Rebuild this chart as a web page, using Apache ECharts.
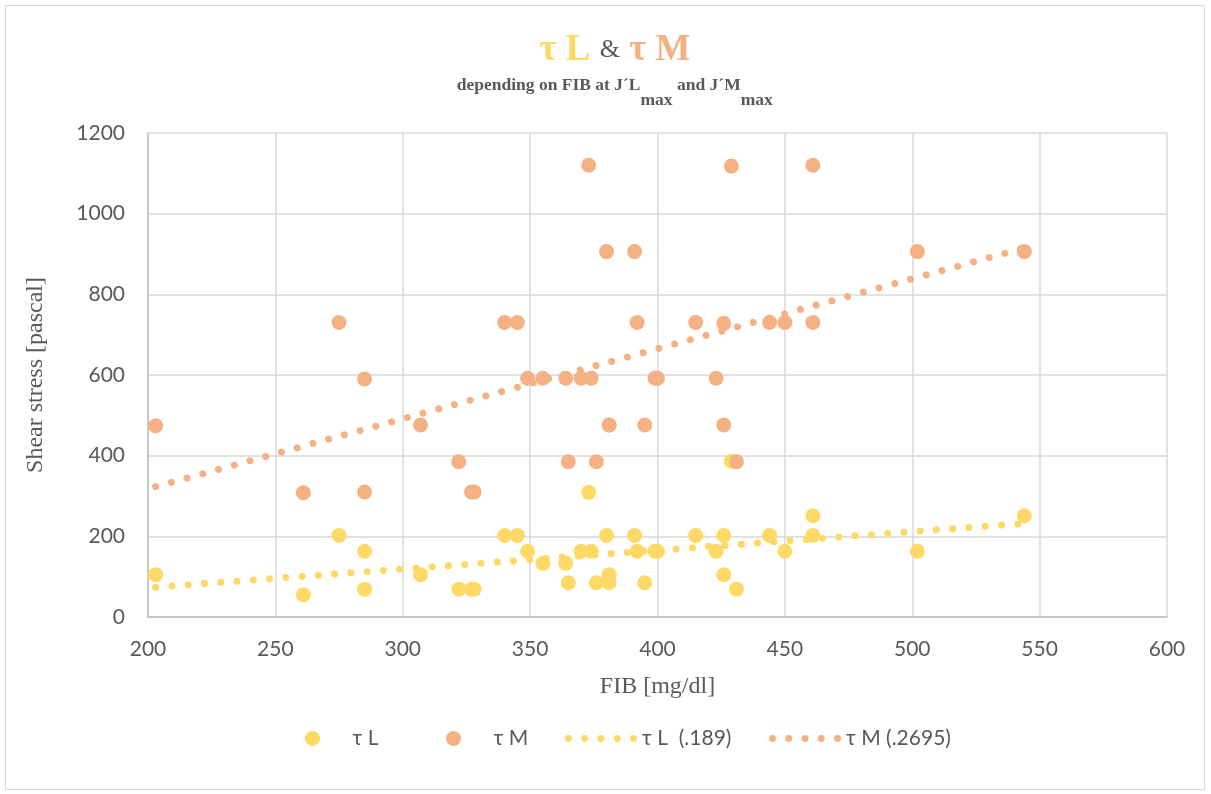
<!DOCTYPE html>
<html>
<head>
<meta charset="utf-8">
<script src="https://cdn.jsdelivr.net/npm/echarts@6/dist/echarts.min.js"></script>
<style>
  html, body { margin: 0; padding: 0; background: #fff; }
  #chart { width: 1211px; height: 794px; }
</style>
</head>
<body>
<div id="chart"></div>
<script>
// FIB [mg/dl] of each sample
const fib  = [203,261,275,285,285,307,322,327,328,340,345,349,355,364,365,370,373,374,376,380,381,381,391,392,395,399,400,415,423,426,426,429,431,444,450,461,461,502,544];
// τ L shear stress [pascal]
const tauL = [105,55,202,163,69,105,69,69,69,202,202,163,133,133,85,163,309,163,85,202,105,85,202,163,85,163,163,202,163,105,202,386,69,202,163,251,202,163,251];
// τ M shear stress [pascal]
const tauM = [474,308,730,590,310,476,385,310,310,730,730,592,592,592,385,592,1120,592,385,906,476,476,906,730,476,592,592,730,592,476,728,1118,385,730,730,1120,730,906,906];
// linear trend lines (end points)
const trendLx = [203, 544], trendLy = [74, 232];
const trendMx = [203, 544], trendMy = [323, 915];
const xTicks = [200, 250, 300, 350, 400, 450, 500, 550, 600];
const yTicks = [0, 200, 400, 600, 800, 1000, 1200];
const names = { L: 'τ L', M: 'τ M', TL: 'τ L  (.189)', TM: 'τ M (.2695)' };

const YEL = '#FFD966', ORA = '#F4B183', TXT = '#595959';
const SANS = 'Lato, "Open Sans", sans-serif';
const SERIF = '"Liberation Serif", "Times New Roman", serif';

const zip = (a, b) => a.map((v, i) => [v, b[i]]);

let dots = '';
for (let i = 0; i < 5; i++) {
  const cx = 16.3 * i;
  dots += `M${cx.toFixed(1)},3.5a3.5,3.5 0 1,0 7,0a3.5,3.5 0 1,0 -7,0Z `;
}
const dotIcon = 'path://' + dots;

const chart = echarts.init(document.getElementById('chart'), null, { renderer: 'canvas' });
const legendBase = (name, left, icon, w, h) => ({
  data: [{ name: name, icon: icon }],
  left: left, top: 723, itemWidth: w, itemHeight: h, itemGap: 0,
  selectedMode: false,
  textStyle: { color: TXT, fontFamily: SANS, fontSize: 21 }
});

chart.setOption({
  animation: false,
  backgroundColor: '#fff',
  title: [
    {
      left: 610, top: 24, textAlign: 'center',
      text: '{a|τ L}{sp| }{amp|&}{sp| }{b|τ M}',
      textStyle: {
        rich: {
          a: { color: YEL, fontFamily: SERIF, fontWeight: 'bold', fontSize: 37, lineHeight: 42 },
          sp: { fontFamily: SERIF, fontSize: 37, lineHeight: 42 },
          amp: { color: TXT, fontFamily: SERIF, fontWeight: 'normal', fontSize: 26, lineHeight: 42 },
          b: { color: ORA, fontFamily: SERIF, fontWeight: 'bold', fontSize: 37, lineHeight: 42 }
        }
      }
    },
    {
      left: 610, top: 71, textAlign: 'center',
      text: '{n|depending on FIB at J´L}{s|max}{n| and J´M}{s|max}{x| }',
      textStyle: {
        rich: {
          n: { color: TXT, fontFamily: SERIF, fontWeight: 'bold', fontSize: 17.5, lineHeight: 20, verticalAlign: 'top' },
          s: { color: TXT, fontFamily: SERIF, fontWeight: 'bold', fontSize: 17.5, lineHeight: 20, verticalAlign: 'bottom' },
          x: { fontSize: 2, lineHeight: 33 }
        }
      }
    }
  ],
  legend: [
    legendBase(names.L, 300, 'circle', 70, 15),
    legendBase(names.M, 441, 'circle', 70, 15),
    legendBase(names.TL, 560, dotIcon, 72, 7),
    legendBase(names.TM, 764, dotIcon, 72, 7)
  ],
  grid: { left: 148, right: 44, top: 133, bottom: 177, containLabel: false },
  xAxis: {
    type: 'value', min: xTicks[0], max: xTicks[xTicks.length - 1], interval: 50,
    name: 'FIB [mg/dl]', nameLocation: 'middle', nameGap: 58,
    nameTextStyle: { color: TXT, fontFamily: SERIF, fontSize: 24 },
    axisLine: { show: true, lineStyle: { color: '#BFBFBF', width: 1.5 } },
    axisTick: { show: false },
    axisLabel: { color: TXT, fontFamily: SANS, fontSize: 21, margin: 22, formatter: v => String(v) },
    splitLine: { show: true, lineStyle: { color: '#D9D9D9', width: 1.5 } }
  },
  yAxis: {
    type: 'value', min: yTicks[0], max: yTicks[yTicks.length - 1], interval: 200,
    name: 'Shear stress [pascal]', nameLocation: 'middle', nameGap: 100, nameRotate: 90,
    nameTextStyle: { color: TXT, fontFamily: SERIF, fontSize: 24 },
    axisLine: { show: true, lineStyle: { color: '#BFBFBF', width: 1.5 } },
    axisTick: { show: false },
    axisLabel: { color: TXT, fontFamily: SANS, fontSize: 21, margin: 23, formatter: v => String(v) },
    splitLine: { show: true, lineStyle: { color: '#D9D9D9', width: 1.5 } }
  },
  graphic: [{
    type: 'rect', silent: true, z: -10,
    shape: { x: 5.5, y: 5.5, width: 1199, height: 784 },
    style: { fill: 'none', stroke: '#D9D9D9', lineWidth: 1 }
  }],
  series: [
    {
      name: names.L, type: 'scatter', data: zip(fib, tauL),
      symbol: 'circle', symbolSize: 15, itemStyle: { color: YEL, opacity: 1 }, z: 2
    },
    {
      name: names.M, type: 'scatter', data: zip(fib, tauM),
      symbol: 'circle', symbolSize: 15, itemStyle: { color: ORA, opacity: 1 }, z: 3
    },
    {
      name: names.TL, type: 'line', data: zip(trendLx, trendLy),
      showSymbol: false, symbol: 'none', itemStyle: { color: YEL },
      lineStyle: { color: YEL, width: 7, type: [0.01, 16.3], cap: 'round' }, z: 4
    },
    {
      name: names.TM, type: 'line', data: zip(trendMx, trendMy),
      showSymbol: false, symbol: 'none', itemStyle: { color: ORA },
      lineStyle: { color: ORA, width: 7, type: [0.01, 16.3], cap: 'round' }, z: 4
    }
  ]
});
</script>
</body>
</html>
